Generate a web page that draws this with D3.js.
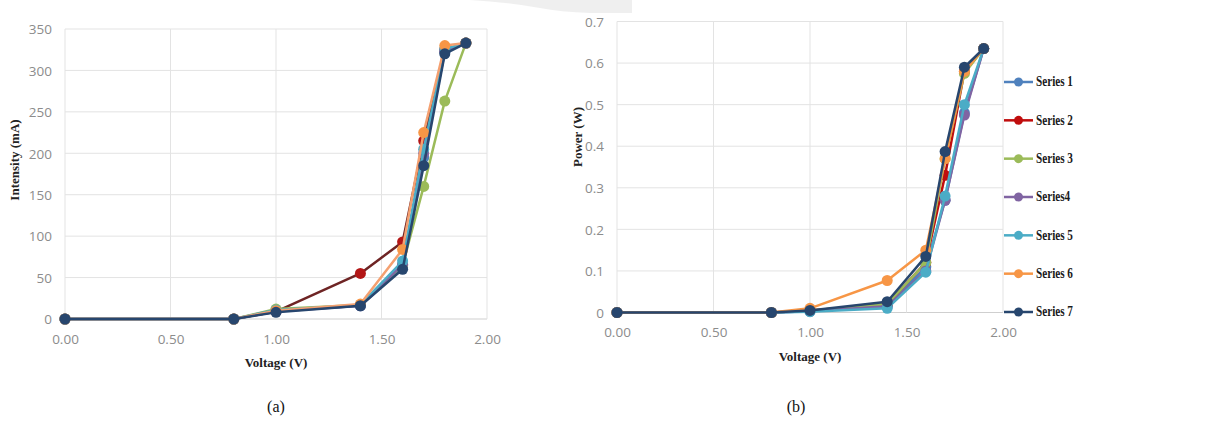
<!DOCTYPE html>
<html>
<head>
<meta charset="utf-8">
<script src="https://cdn.jsdelivr.net/npm/d3@7"></script>
<style>
  html, body { margin: 0; padding: 0; background: #fff; }
  svg { display: block; }
  .tick text { font-family: "Open Sans", "Liberation Sans", sans-serif; fill: #8c8c8c; font-size: 13.5px; }
  .title { font-family: "Liberation Serif", "DejaVu Serif", serif; font-weight: bold; font-size: 13px; fill: #222; }
  .legend text { font-family: "Liberation Serif", serif; font-weight: bold; font-size: 14px; fill: #1a1a1a; }
  .caption { font-family: "Liberation Serif", serif; font-size: 16px; fill: #111; }
</style>
</head>
<body>
<svg id="chart" width="1218" height="425"></svg>
<script>
// Voltage steps shared by both panels
const voltage = [0, 0.8, 1.0, 1.4, 1.6, 1.7, 1.8, 1.9];
const seriesNames = ["Series 1", "Series 2", "Series 3", "Series4", "Series 5", "Series 6", "Series 7"];
const seriesColors = ["#4f81bd", "#c00d0d", "#9bbb59", "#8064a2", "#4bacc6", "#f79646", "#27466e"];
// panel (a) draws Series 2 with a darker maroon line
const lineColorsA = ["#4f81bd", "#6e2424", "#9bbb59", "#8064a2", "#4bacc6", "#f4a070", "#27466e"];
const markerColorsA = ["#4f81bd", "#b31616", "#9bbb59", "#8064a2", "#4bacc6", "#f79646", "#27466e"];

// Panel (a): current in mA
const intensity1 = [0, 0, 10, 16, 62, 195, 322, 333];
const intensity2 = [0, 0, 9, 55, 93, 215, 325, 333];
const intensity3 = [0, 0, 12, 17, 65, 160, 263, 333];
const intensity4 = [0, 0, 9, 16, 66, 200, 323, 333];
const intensity5 = [0, 0, 11, 17, 70, 205, 326, 333];
const intensity6 = [0, 0, 10, 18, 84, 225, 330, 333];
const intensity7 = [0, 0, 8, 16, 60, 185, 320, 333];

// Panel (b): power in W
const power1 = [0, 0, 0.003, 0.015, 0.11, 0.27, 0.48, 0.635];
const power2 = [0, 0, 0.005, 0.02, 0.12, 0.33, 0.58, 0.635];
const power3 = [0, 0, 0.005, 0.02, 0.12, 0.37, 0.575, 0.635];
const power4 = [0, 0, 0.003, 0.015, 0.1, 0.27, 0.475, 0.635];
const power5 = [0, 0, 0.002, 0.01, 0.097, 0.28, 0.5, 0.635];
const power6 = [0, 0, 0.01, 0.077, 0.15, 0.37, 0.58, 0.635];
const power7 = [0, 0, 0.005, 0.026, 0.135, 0.387, 0.59, 0.635];

const xTicks = [0, 0.5, 1.0, 1.5, 2.0];
const intensityTicks = [0, 50, 100, 150, 200, 250, 300, 350];
const powerTicks = [0, 0.1, 0.2, 0.3, 0.4, 0.5, 0.6, 0.7];

const svg = d3.select("#chart");

// faint grey stamp fragment along the top edge
svg.append("path")
  .attr("d", "M470,0 L632,0 L632,13 L590,13 Q560,12 540,8 Q505,2 470,0 Z")
  .attr("fill", "#dcdcdc").attr("opacity", 0.45);

function panel(opts) {
  const g = svg.append("g");
  const x = d3.scaleLinear().domain([0, 2]).range([opts.x0, opts.x1]);
  const y = d3.scaleLinear().domain([0, opts.ymax]).range([opts.y0, opts.y1]);

  // grid
  g.append("g").selectAll("line.h").data(opts.yTicks).join("line")
    .attr("x1", opts.x0).attr("x2", opts.x1)
    .attr("y1", d => y(d)).attr("y2", d => y(d))
    .attr("stroke", d => d === 0 ? "#cfcfcf" : "#e3e3e3").attr("stroke-width", 1);
  g.append("g").selectAll("line.v").data(xTicks).join("line")
    .attr("x1", d => x(d)).attr("x2", d => x(d))
    .attr("y1", opts.y1).attr("y2", opts.y0)
    .attr("stroke", "#e3e3e3").attr("stroke-width", 1);

  // axes (text only)
  const yAxis = d3.axisLeft(y).tickValues(opts.yTicks).tickSize(0).tickPadding(0)
    .tickFormat(opts.yFormat);
  g.append("g").attr("transform", `translate(${opts.x0 - 13},0)`).call(yAxis)
    .call(a => a.select(".domain").remove())
    .selectAll("text").attr("dy", "0.35em");
  const xAxis = d3.axisBottom(x).tickValues(xTicks).tickSize(0).tickPadding(0)
    .tickFormat(d3.format(".2f"));
  g.append("g").attr("transform", `translate(0,${opts.y0 + 15})`).call(xAxis)
    .call(a => a.select(".domain").remove());

  // titles
  g.append("text").attr("class", "title").attr("text-anchor", "middle")
    .attr("x", (opts.x0 + opts.x1) / 2).attr("y", opts.y0 + 48).text("Voltage (V)");
  g.append("text").attr("class", "title").attr("text-anchor", "middle")
    .attr("transform", `translate(${opts.yTitleX},${opts.yTitleY}) rotate(-90)`)
    .text(opts.yTitle);

  const line = d3.line().x((d, i) => x(voltage[i])).y(d => y(d));
  opts.series.forEach((vals, k) => {
    const s = g.append("g");
    s.append("path").datum(vals).attr("d", line)
      .attr("fill", "none").attr("stroke", opts.lineColors[k]).attr("stroke-width", 2.5)
      .attr("stroke-linejoin", "round");
    s.selectAll("circle").data(vals).join("circle")
      .attr("cx", (d, i) => x(voltage[i])).attr("cy", d => y(d)).attr("r", 5.5)
      .attr("fill", opts.markerColors[k]);
  });

  g.append("text").attr("class", "caption").attr("text-anchor", "middle")
    .attr("x", opts.captionX).attr("y", 412).text(opts.caption);
  return { g, x, y };
}

panel({
  x0: 65, x1: 487, y0: 319, y1: 29, ymax: 350,
  yTicks: intensityTicks, yFormat: d3.format("d"),
  yTitle: "Intensity (mA)", yTitleX: 19, yTitleY: 160,
  series: [intensity1, intensity2, intensity3, intensity4, intensity5, intensity6, intensity7],
  lineColors: lineColorsA, markerColors: markerColorsA,
  caption: "(a)", captionX: 276
});

panel({
  x0: 617, x1: 1003, y0: 312.5, y1: 21.5, ymax: 0.7,
  yTicks: powerTicks, yFormat: d => d === 0 ? "0" : d3.format(".1f")(d),
  yTitle: "Power (W)", yTitleX: 582, yTitleY: 137,
  series: [power1, power2, power3, power4, power5, power6, power7],
  lineColors: seriesColors, markerColors: seriesColors,
  caption: "(b)", captionX: 796
});

// legend for panel (b)
const legend = svg.append("g").attr("class", "legend");
const legendY = d3.scalePoint().domain(seriesNames).range([82, 312]);
seriesNames.forEach((name, k) => {
  const row = legend.append("g").attr("transform", `translate(0,${legendY(name)})`);
  row.append("line").attr("x1", 1004).attr("x2", 1033).attr("y1", 0).attr("y2", 0)
    .attr("stroke", seriesColors[k]).attr("stroke-width", 2.5);
  row.append("circle").attr("cx", 1018.5).attr("cy", 0).attr("r", 4.5).attr("fill", seriesColors[k]);
  row.append("text").attr("transform", "translate(1036,0) scale(0.8,1)")
    .attr("dy", "0.3em").text(name);
});
</script>
</body>
</html>
